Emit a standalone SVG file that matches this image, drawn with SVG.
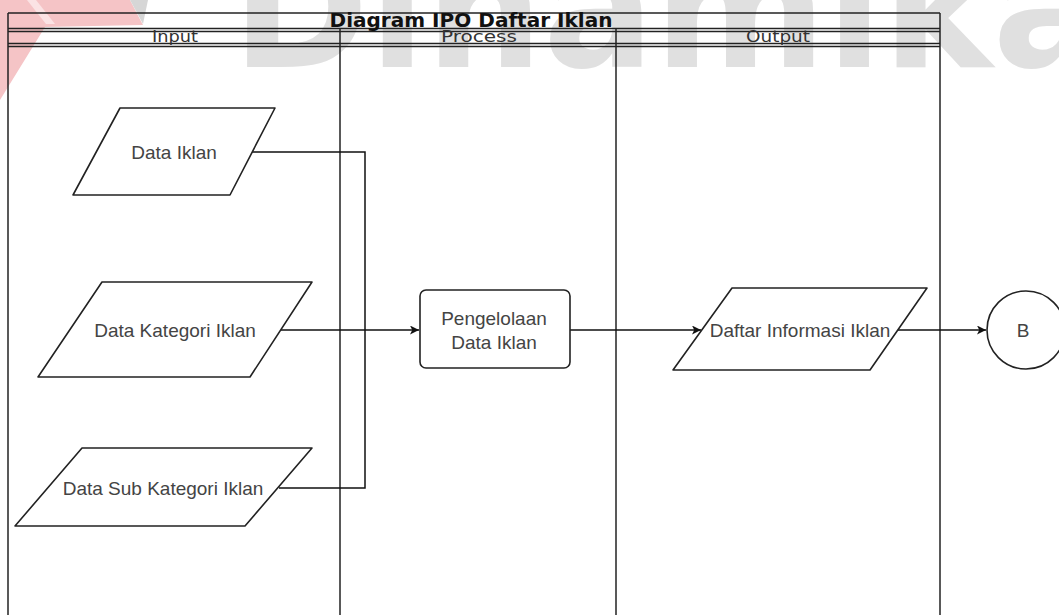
<svg xmlns="http://www.w3.org/2000/svg" width="1059" height="615" viewBox="0 0 1059 615">
  <defs>
    <marker id="arrow" viewBox="0 0 10 10" refX="10" refY="5" markerWidth="9" markerHeight="9" markerUnits="userSpaceOnUse" orient="auto">
      <path d="M0,0 L10,5 L0,10 L2.5,5 Z" fill="#111"/>
    </marker>
    <style>
      .frame { fill: none; stroke: #222; stroke-width: 1.5; }
      .shape { fill: #fff; stroke: #222; stroke-width: 1.6; stroke-linejoin: round; }
      .wire { fill: none; stroke: #111; stroke-width: 1.5; }
      .label { font-family: "Liberation Sans", Arial, sans-serif; font-size: 19px; fill: #444; text-anchor: middle; }
      .lane-title { font-family: "DejaVu Sans", sans-serif; font-size: 15px; fill: #333; text-anchor: middle; }
      .title { font-family: "DejaVu Sans", sans-serif; font-size: 19px; font-weight: bold; fill: #111; text-anchor: middle; }
      .mark { font-family: "DejaVu Sans", sans-serif; font-weight: bold; font-size: 165px; fill: #e0e0e0; }
    </style>
  </defs>

  <rect width="1059" height="615" fill="#fff"/>

  <!-- background mark -->
  <g id="backdrop">
    <polygon points="0,0 130,0 143,25 45,27 0,100" fill="#f5c4c6"/>
    <polygon points="27,0 36,0 55,24 46,24" fill="#fbe3e4"/>
    <polygon points="130,0 148,0 143,24" fill="#d6d6d6"/>
    <text class="mark" x="232" y="67">Dinamika</text>
  </g>

  <!-- pool and lanes -->
  <g id="pool">
    <line class="frame" x1="8" y1="13" x2="940" y2="13"/>
    <line class="frame" x1="8" y1="28.5" x2="940" y2="28.5"/>
    <line class="frame" x1="8" y1="31.5" x2="940" y2="31.5"/>
    <line class="frame" x1="8" y1="43.5" x2="940" y2="43.5"/>
    <line class="frame" x1="8" y1="46.5" x2="940" y2="46.5"/>
    <line class="frame" x1="8" y1="13" x2="8" y2="615"/>
    <line class="frame" x1="940" y1="13" x2="940" y2="615"/>
    <line class="frame" x1="340" y1="29" x2="340" y2="615"/>
    <line class="frame" x1="616" y1="29" x2="616" y2="615"/>
    <text class="title" x="471" y="27" textLength="283" lengthAdjust="spacingAndGlyphs">Diagram IPO Daftar Iklan</text>
    <text class="lane-title" x="175" y="42" textLength="46" lengthAdjust="spacingAndGlyphs">Input</text>
    <text class="lane-title" x="479" y="42" textLength="76" lengthAdjust="spacingAndGlyphs">Process</text>
    <text class="lane-title" x="778" y="42" textLength="64" lengthAdjust="spacingAndGlyphs">Output</text>
  </g>

  <!-- connectors -->
  <g id="connectors">
    <polyline class="wire" points="252,152 365,152 365,488 279,488"/>
    <line class="wire" x1="281" y1="330" x2="419" y2="330" marker-end="url(#arrow)"/>
    <line class="wire" x1="570" y1="330" x2="701" y2="330" marker-end="url(#arrow)"/>
    <line class="wire" x1="898" y1="330" x2="986" y2="330" marker-end="url(#arrow)"/>
  </g>

  <g id="data-iklan">
    <polygon class="shape" points="120,108 275,108 230,195 73,195"/>
    <text class="label" x="174" y="159">Data Iklan</text>
  </g>

  <g id="data-kategori-iklan">
    <polygon class="shape" points="102,282 312,282 250,377 38,377"/>
    <text class="label" x="175" y="337">Data Kategori Iklan</text>
  </g>

  <g id="data-sub-kategori-iklan">
    <polygon class="shape" points="82,448 312,448 245,526 15,526"/>
    <text class="label" x="163" y="495">Data Sub Kategori Iklan</text>
  </g>

  <g id="pengelolaan-data-iklan">
    <rect class="shape" x="420" y="290" width="150" height="78" rx="6"/>
    <text class="label" x="494" y="325">Pengelolaan</text>
    <text class="label" x="494" y="349">Data Iklan</text>
  </g>

  <g id="daftar-informasi-iklan">
    <polygon class="shape" points="732,288 927,288 870,370 673,370"/>
    <text class="label" x="800" y="337">Daftar Informasi Iklan</text>
  </g>

  <g id="connector-b">
    <circle class="shape" cx="1026" cy="330" r="39"/>
    <text class="label" x="1023" y="337">B</text>
  </g>
</svg>
